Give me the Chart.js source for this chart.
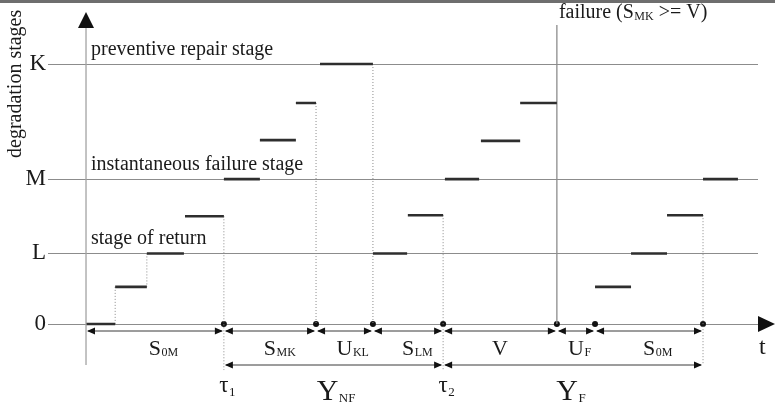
<!DOCTYPE html>
<html>
<head>
<meta charset="utf-8">
<script src="https://cdn.jsdelivr.net/npm/chart.js@4.4.1/dist/chart.umd.min.js"></script>
<style>
  html, body { margin: 0; padding: 0; background: #fff; }
</style>
</head>
<body>
<canvas id="stagesChart" width="775" height="406"></canvas>
<script>
// degradation path, one flat step per entry (time from, time to, stage level)
const stepStart = [0, 0.81, 1.69, 2.75, 3.83, 4.83, 5.83, 6.5, 7.97, 8.94, 9.97, 10.97, 12.06, 14.14, 15.14, 16.14, 17.14];
const stepEnd   = [0.81, 1.69, 2.72, 3.83, 4.83, 5.83, 6.39, 7.97, 8.92, 9.92, 10.92, 12.06, 13.08, 15.14, 16.14, 17.14, 18.11];
const stepLevel = [0, 1, 1.9, 2.9, 3.9, 4.95, 5.95, 7, 1.9, 2.93, 3.9, 4.93, 5.95, 1, 1.9, 2.93, 3.9];

// named stages on the vertical axis
const stageValues = [0, 1.9, 3.9, 7];
const stageLabels = ['0', 'L', 'M', 'K'];
const stageNames  = ['', 'stage of return', 'instantaneous failure stage', 'preventive repair stage'];

// dotted drop lines (time, upper level, lower level)
const dropTime   = [0.81, 1.69, 3.83, 6.39, 7.97, 9.92, 17.14];
const dropTop    = [1, 1.9, 2.9, 5.95, 7, 2.93, 2.93];
const dropBottom = [0, 1, -1.24, 0, 0, -1.24, -1.1];

// instants marked on the time axis
const eventTimes = [3.83, 6.39, 7.97, 9.92, 13.08, 14.14, 17.14];
const failureTime = 13.08;

// intervals under the time axis
const intervalBounds = [0, 3.83, 6.39, 7.97, 9.92, 13.08, 14.14, 17.14];
const intervalMain = ['S', 'S', 'U', 'S', 'V', 'U', 'S'];
const intervalSub  = ['0M', 'MK', 'KL', 'LM', '', 'F', '0M'];
const cycleBounds = [3.83, 9.92, 17.14];
const cycleSub = ['NF', 'F'];
const tauTimes = [3.83, 9.92];
const tauSub = ['1', '2'];

const SERIF = '"Liberation Serif", "Times New Roman", serif';
const INK = '#1a1a1a';

const stepPoints = [];
stepStart.forEach(function(s, i) {
    stepPoints.push({x: s, y: stepLevel[i]}, {x: stepEnd[i], y: stepLevel[i]}, {x: stepEnd[i], y: null});
});
const dropPoints = [];
dropTime.forEach(function(t, i) {
    dropPoints.push({x: t, y: dropTop[i]}, {x: t, y: dropBottom[i]}, {x: t, y: null});
});

function subText(ctx, main, sub, cx, base, mSize, sSize, drop) {
    ctx.font = mSize + 'px ' + SERIF;
    const w = ctx.measureText(main).width;
    ctx.textAlign = 'left';
    ctx.fillText(main, cx - w / 2, base);
    if (sub) {
        ctx.font = sSize + 'px ' + SERIF;
        ctx.fillText(sub, cx + w / 2 + 0.5, base + drop);
    }
}

function head(ctx, tipX, yy, dir) {
    ctx.beginPath();
    ctx.moveTo(tipX, yy);
    ctx.lineTo(tipX + dir * 8, yy - 3.5);
    ctx.lineTo(tipX + dir * 8, yy + 3.5);
    ctx.closePath();
    ctx.fill();
}

function dblArrow(ctx, xa, xb, yy) {
    ctx.beginPath();
    ctx.moveTo(xa + 2, yy);
    ctx.lineTo(xb - 2, yy);
    ctx.stroke();
    head(ctx, xa + 1, yy, 1);
    head(ctx, xb - 1, yy, -1);
}

// axes arrows, stage names, interval arrows and labels
const diagram = {
    id: 'diagram',
    afterDraw(chart) {
        const ctx = chart.ctx;
        const x = chart.scales.x, y = chart.scales.y;
        const x0 = x.getPixelForValue(0);
        const y0 = y.getPixelForValue(0);
        ctx.save();

        ctx.fillStyle = '#6e6e6e';
        ctx.fillRect(0, 0, chart.width, 3);

        // vertical axis with arrow
        ctx.strokeStyle = '#a3a3a3';
        ctx.lineWidth = 1.3;
        ctx.beginPath();
        ctx.moveTo(x0, 26);
        ctx.lineTo(x0, y0 + 41);
        ctx.stroke();
        ctx.fillStyle = '#111';
        ctx.beginPath();
        ctx.moveTo(x0, 12);
        ctx.lineTo(x0 - 8, 28);
        ctx.lineTo(x0 + 8, 28);
        ctx.closePath();
        ctx.fill();

        // time axis arrow
        const xr = chart.chartArea.right;
        ctx.beginPath();
        ctx.moveTo(chart.width, y0);
        ctx.lineTo(xr, y0 - 8);
        ctx.lineTo(xr, y0 + 8);
        ctx.closePath();
        ctx.fill();

        ctx.fillStyle = INK;
        ctx.textBaseline = 'alphabetic';

        // axis title
        ctx.save();
        ctx.translate(21, 158);
        ctx.rotate(-Math.PI / 2);
        ctx.font = '20px ' + SERIF;
        ctx.textAlign = 'left';
        ctx.fillText('degradation stages', 0, 0);
        ctx.restore();

        // stage names above their lines
        ctx.font = '20px ' + SERIF;
        ctx.textAlign = 'left';
        stageNames.forEach(function(name, i) {
            if (name) ctx.fillText(name, x0 + 5, y.getPixelForValue(stageValues[i]) - 9);
        });

        // failure note
        const xf = x.getPixelForValue(failureTime);
        ctx.font = '20px ' + SERIF;
        let cx = xf + 2;
        ctx.fillText('failure (S', cx, 18);
        cx += ctx.measureText('failure (S').width + 0.5;
        ctx.font = '12px ' + SERIF;
        ctx.fillText('MK', cx, 20);
        cx += ctx.measureText('MK').width;
        ctx.font = '20px ' + SERIF;
        ctx.fillText(' >= V)', cx, 18);

        // interval arrows
        ctx.strokeStyle = '#3a3a3a';
        ctx.fillStyle = '#111';
        ctx.lineWidth = 1;
        for (let i = 0; i < intervalMain.length; i++) {
            dblArrow(ctx, x.getPixelForValue(intervalBounds[i]), x.getPixelForValue(intervalBounds[i + 1]), y0 + 7);
        }
        for (let i = 0; i < cycleSub.length; i++) {
            dblArrow(ctx, x.getPixelForValue(cycleBounds[i]), x.getPixelForValue(cycleBounds[i + 1]), y0 + 41);
        }

        ctx.fillStyle = INK;
        for (let i = 0; i < intervalMain.length; i++) {
            const mid = (x.getPixelForValue(intervalBounds[i]) + x.getPixelForValue(intervalBounds[i + 1])) / 2;
            subText(ctx, intervalMain[i], intervalSub[i], mid, y0 + 31, 22, 12, 1);
        }
        for (let i = 0; i < cycleSub.length; i++) {
            const mid = (x.getPixelForValue(cycleBounds[i]) + x.getPixelForValue(cycleBounds[i + 1])) / 2;
            subText(ctx, 'Y', cycleSub[i], mid - 6, y0 + 76, 30, 13, 2);
        }
        tauTimes.forEach(function(t, i) {
            subText(ctx, '\u03c4', tauSub[i], x.getPixelForValue(t), y0 + 68, 23, 13, 4);
        });

        ctx.font = '24px ' + SERIF;
        ctx.textAlign = 'left';
        ctx.fillText('t', 759, y0 + 30);

        ctx.restore();
    }
};

new Chart(document.getElementById('stagesChart').getContext('2d'), {
    type: 'line',
    data: {
        datasets: [{
            label: 'stage',
            data: stepPoints,
            borderColor: '#2e2e2e',
            borderWidth: 2.6,
            borderCapStyle: 'butt',
            pointRadius: 0,
            spanGaps: false,
            clip: false
        }, {
            label: 'drops',
            data: dropPoints,
            borderColor: '#8a8a8a',
            borderWidth: 1,
            borderDash: [1, 2],
            pointRadius: 0,
            spanGaps: false,
            clip: false
        }, {
            label: 'failure',
            data: [{x: failureTime, y: 0}, {x: failureTime, y: 8.05}],
            borderColor: '#8c8c8c',
            borderWidth: 1.3,
            pointRadius: 0,
            clip: false
        }, {
            type: 'scatter',
            label: 'events',
            data: eventTimes.map(function(t) { return {x: t, y: 0}; }),
            backgroundColor: '#111',
            borderWidth: 0,
            pointRadius: 3,
            clip: false
        }]
    },
    options: {
        responsive: false,
        animation: false,
        devicePixelRatio: 1,
        layout: { padding: { top: 16, bottom: 16, right: 17, left: 0 } },
        plugins: { legend: { display: false }, tooltip: { enabled: false } },
        scales: {
            x: { type: 'linear', min: -1.056, max: 18.667, display: false },
            y: {
                type: 'linear', min: -1.777, max: 8.293,
                afterBuildTicks: function(scale) { scale.ticks = stageValues.map(function(v) { return {value: v}; }); },
                afterFit: function(scale) { scale.width = 48; scale.paddingTop = 0; scale.paddingBottom = 0; },
                ticks: {
                    callback: function(v, i) { return stageLabels[i]; },
                    font: { family: SERIF, size: 23 },
                    color: INK,
                    padding: 2
                },
                grid: { color: '#8c8c8c', lineWidth: 1, drawTicks: false },
                border: { display: false }
            }
        }
    },
    plugins: [diagram]
});
</script>
</body>
</html>
